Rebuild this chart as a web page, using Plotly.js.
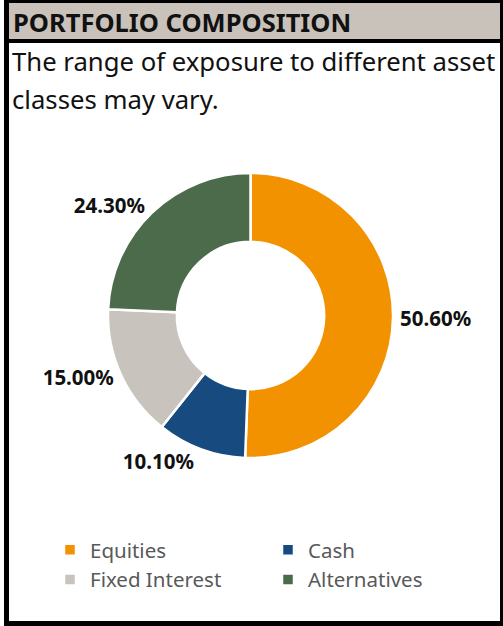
<!DOCTYPE html>
<html>
<head>
<meta charset="utf-8">
<script src="https://cdn.plot.ly/plotly-3.0.1.min.js"></script>
<style>html,body{margin:0;padding:0;background:#fff;}#chart{width:503px;height:626px;}</style>
</head>
<body>
<div id="chart"></div>
<script>
const categories = ["Equities", "Cash", "Fixed Interest", "Alternatives"];
const values = [50.6, 10.1, 15.0, 24.3];
const colors = ["#F29200", "#174A7E", "#C8C3BC", "#4B6B4B"];
const titleText = "PORTFOLIO COMPOSITION";
const subtitleLines = ["The range of exposure to different asset", "classes may vary."];

const W = 503, H = 626;
const px = x => x / W;
const py = y => 1 - y / H;

const trace = {
  type: "pie",
  labels: categories,
  values: values,
  sort: false,
  direction: "clockwise",
  rotation: 0,
  hole: 0.517,
  marker: { colors: colors, line: { color: "#ffffff", width: 2.5 } },
  textposition: "outside",
  texttemplate: "%{value:.2f}%",
  textfont: { family: "Noto Sans", size: 20.5, color: "#111111", weight: "bold" },
  hoverinfo: "label+value",
  domain: { x: [px(108), px(393)], y: [py(458), py(173)] }
};

const layout = {
  width: W, height: H,
  margin: { l: 0, r: 0, t: 0, b: 0 },
  paper_bgcolor: "#ffffff",
  font: { family: "Noto Sans" },
  showlegend: true,
  legend: {
    orientation: "h",
    x: px(50), xanchor: "left",
    y: py(530), yanchor: "top",
    entrywidth: 173,
    traceorder: "normal",
    bgcolor: "rgba(0,0,0,0)",
    font: { family: "Noto Sans", size: 20.5, color: "#595959" },
    itemclick: false
  },
  shapes: [
    { type: "rect", xref: "paper", yref: "paper", x0: px(4), x1: px(503), y0: py(626), y1: py(0), fillcolor: "#000000", line: { width: 0 }, layer: "below" },
    { type: "rect", xref: "paper", yref: "paper", x0: px(9), x1: px(500), y0: py(39), y1: py(3), fillcolor: "#C9C2BB", line: { width: 0 }, layer: "below" },
    { type: "rect", xref: "paper", yref: "paper", x0: px(9), x1: px(500), y0: py(621), y1: py(43), fillcolor: "#ffffff", line: { width: 0 }, layer: "below" }
  ],
  annotations: [
    { text: "<b>" + titleText + "</b>", xref: "paper", yref: "paper", x: px(11), y: py(22), xanchor: "left", yanchor: "middle", showarrow: false, font: { family: "Noto Sans", size: 25.5, color: "#111111" } },
    { text: subtitleLines[0], xref: "paper", yref: "paper", x: px(10), y: py(62), xanchor: "left", yanchor: "middle", showarrow: false, font: { family: "Noto Sans", size: 25.7, color: "#111111" } },
    { text: subtitleLines[1], xref: "paper", yref: "paper", x: px(10), y: py(99), xanchor: "left", yanchor: "middle", showarrow: false, font: { family: "Noto Sans", size: 25.7, color: "#111111" } }
  ]
};

Plotly.newPlot("chart", [trace], layout, { displayModeBar: false, staticPlot: true });
</script>
</body>
</html>
